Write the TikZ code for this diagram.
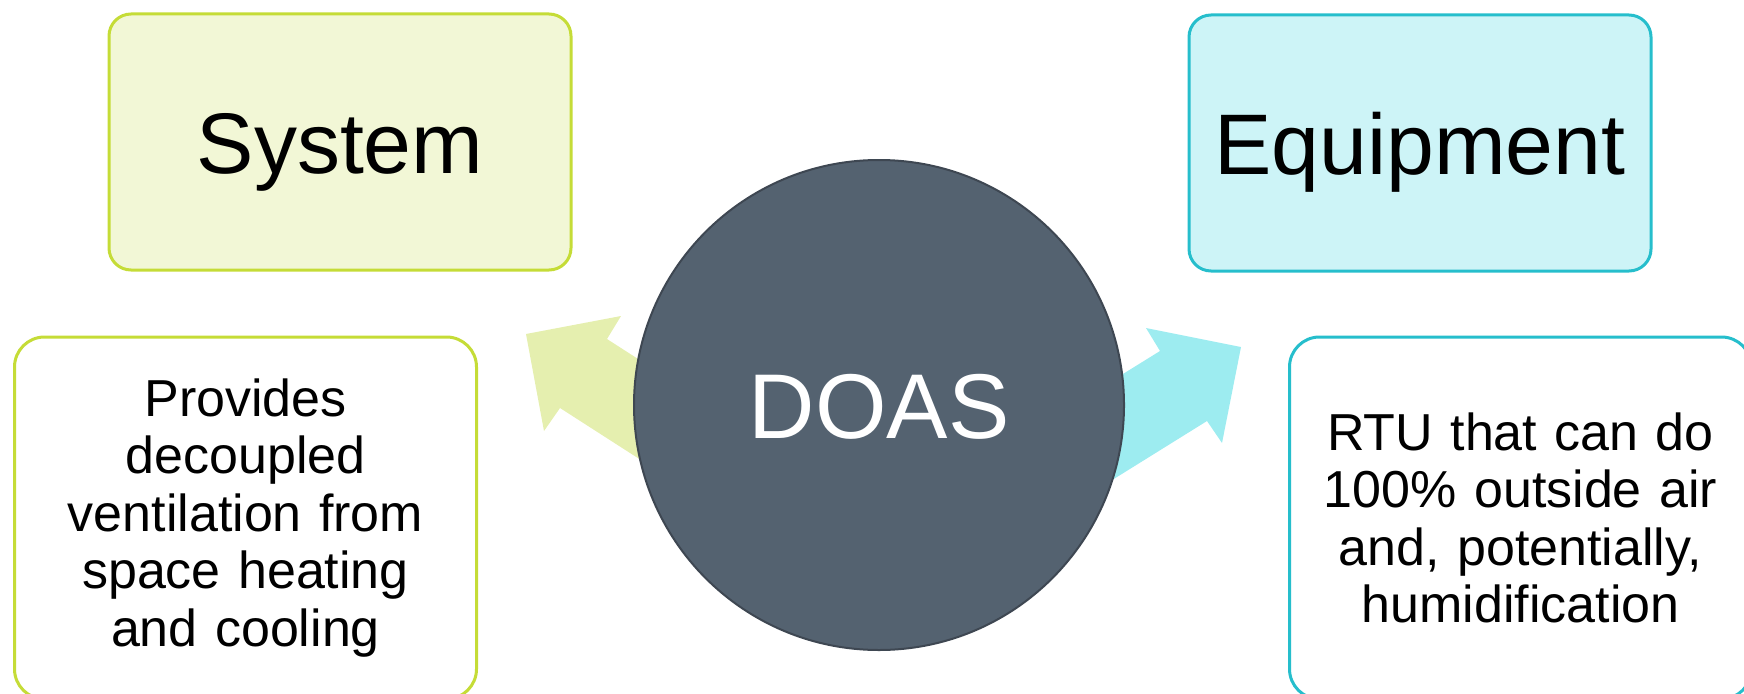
\documentclass[tikz,border=0pt]{standalone}
\usepackage{fontspec}
\setmainfont{Liberation Sans}

\definecolor{limeline}{RGB}{197,220,55}
\definecolor{limefill}{RGB}{242,247,214}
\definecolor{limearrow}{RGB}{229,239,175}
\definecolor{aqualine}{RGB}{38,190,204}
\definecolor{aquafill}{RGB}{205,244,247}
\definecolor{aquaarrow}{RGB}{157,236,240}
\definecolor{slatefill}{RGB}{84,98,112}
\definecolor{slateline}{RGB}{62,71,82}

\tikzset{
	headbox/.style={draw, line width=3pt, rounded corners=22pt, inner sep=0pt,
		minimum width=462pt, minimum height=256pt,
		font=\fontsize{86}{95}\selectfont, text height=82pt, text depth=20pt},
	notebox/.style={draw, fill=white, line width=3pt, rounded corners=30pt, inner sep=0pt,
		minimum width=462pt, minimum height=362pt, text width=430pt, align=center,
		font=\fontsize{52}{57.5}\selectfont},
	hub/.style={circle, draw=slateline, fill=slatefill, line width=2pt, inner sep=0pt,
		minimum size=490pt, text=white,
		font=\fontsize{92}{100}\selectfont, text height=86pt, text depth=20pt}
}

\begin{document}
\begin{tikzpicture}[x=1pt, y=-1pt]
			\useasboundingbox (0,0) rectangle (1744,693);
			\clip (0,0) rectangle (1744,693);
			\fill[limearrow] (708,404) -- (607,339) -- (621,316) -- (526,334) -- (544,431) -- (560,408) -- (700,498) -- cycle;
			\fill[aquaarrow] (1052,418) -- (1160,351) -- (1146,328) -- (1241,347) -- (1222,443) -- (1207,421) -- (1072,505) -- cycle;
			\node[hub] (doas) at (879,405) {DOAS};
			\node[headbox, draw=limeline, fill=limefill] (system) at (340,142) {System};
			\node[headbox, draw=aqualine, fill=aquafill] (equipment) at (1420,143) {Equipment};
			\node[notebox, draw=limeline] (systemnote) at (245.5,518) {Provides\\decoupled\\ventilation from\\space heating\\and cooling};
			\node[notebox, draw=aqualine] (equipmentnote) at (1520.5,518) {RTU that can do\\100\% outside air\\and, potentially,\\humidification};
		\end{tikzpicture}
\end{document}
